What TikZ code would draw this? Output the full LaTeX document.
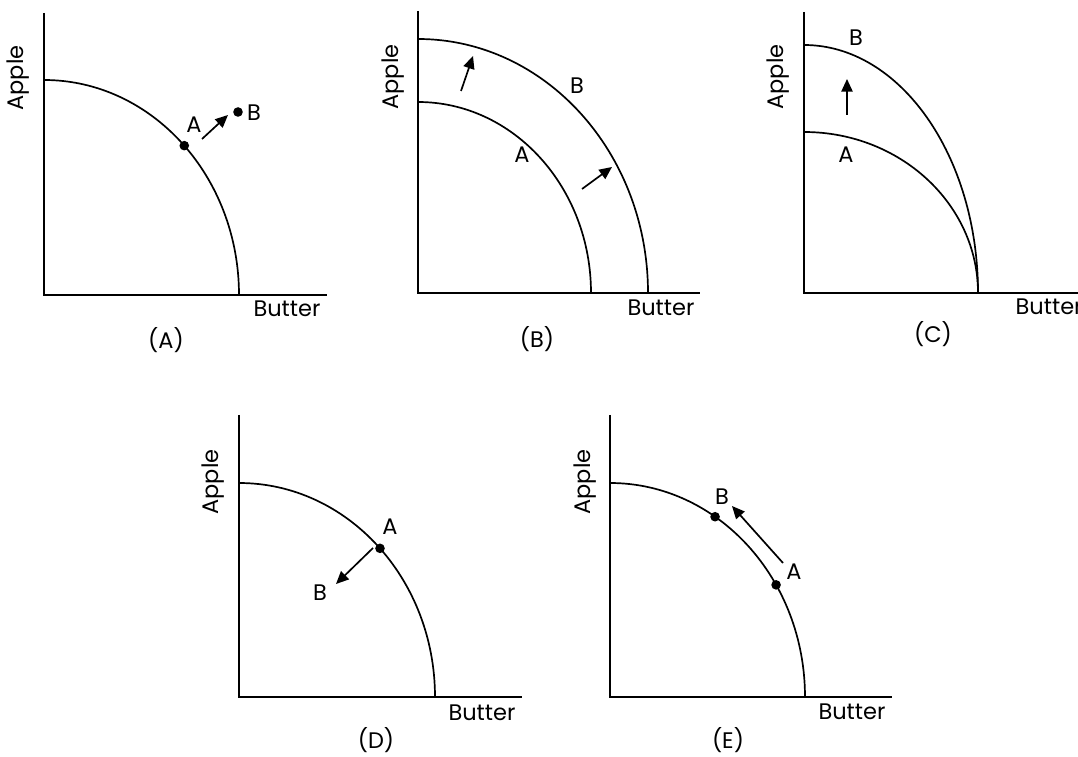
\documentclass[tikz,border=0pt]{standalone}
\usepackage{fontspec}
\setmainfont{Poppins}
\usetikzlibrary{arrows.meta,calc}

\begin{document}
\begin{tikzpicture}[x=0.025cm,y=0.025cm,>={Triangle[length=9pt,width=8pt]},
 axis/.style={line width=1.2pt},
 ppf/.style={line width=1.2pt},
 dot/.style={circle,fill,inner sep=0pt,minimum size=0.24cm},
 lbl/.style={font=\fontsize{16}{19}\selectfont,inner sep=1pt},
 arr/.style={->,line width=1.2pt}]
\useasboundingbox (0,0) rectangle (1078,756);
% (A) move beyond the frontier
\coordinate (oa) at (44,461);
\draw[axis] (44,743) -- (oa) -- (327,461);
\draw[ppf] (44,676) arc[start angle=90,end angle=0,x radius=195,y radius=215];
\node[dot] (pa1) at ($(oa)+(44:195 and 215)$) {};
\node[dot] (pa2) at (238,644) {};
\node[lbl] (la1) at (194,631) {A};
\node[lbl] (la2) at (254,643) {B};
\coordinate (a1s) at (202,617);
\coordinate (a1e) at (228,641);
\draw[arr] (a1s) -- (a1e);
\node[lbl,rotate=90] (ya) at (18,678) {Apple};
\node[lbl] (xa) at (287,447) {Butter};
\node[lbl] (ta) at (166,416) {(A)};
% (B) whole frontier shifts out
\coordinate (ob) at (418,463);
\draw[axis] (418,745) -- (ob) -- (700,463);
\draw[ppf] (418,654) arc[start angle=90,end angle=0,x radius=173,y radius=191];
\draw[ppf] (418,717) arc[start angle=90,end angle=0,x radius=230,y radius=254];
\node[lbl] (lb1) at (522,601) {A};
\node[lbl] (lb2) at (577,670) {B};
\coordinate (b1s) at (461,665);
\coordinate (b1e) at (473,700);
\draw[arr] (b1s) -- (b1e);
\coordinate (b2s) at (582,567);
\coordinate (b2e) at (612,589);
\draw[arr] (b2s) -- (b2e);
\node[lbl,rotate=90] (yb) at (393,679) {Apple};
\node[lbl] (xb) at (661,448) {Butter};
\node[lbl] (tb) at (537,417) {(B)};
% (C) only apple axis shifts
\coordinate (oc) at (804,463);
\draw[axis] (804,744) -- (oc) -- (1078,463);
\draw[ppf] (804,624) arc[start angle=90,end angle=0,x radius=174,y radius=161];
\draw[ppf] (804,711) arc[start angle=90,end angle=0,x radius=174,y radius=248];
\node[lbl] (lc1) at (846,601) {A};
\node[lbl] (lc2) at (856,718) {B};
\coordinate (c1s) at (847,641);
\coordinate (c1e) at (847,677);
\draw[arr] (c1s) -- (c1e);
\node[lbl,rotate=90] (yc) at (778,679) {Apple};
\node[lbl,anchor=west] (xc) at (1014,449) {Butter};
\node[lbl] (tc) at (933,422) {(C)};
% (D) move inside the frontier
\coordinate (od) at (239,59);
\draw[axis] (239,341) -- (od) -- (522,59);
\draw[ppf] (239,273) arc[start angle=90,end angle=0,x radius=196,y radius=214];
\node[dot] (pd1) at ($(od)+(44:196 and 214)$) {};
\node[lbl] (ld1) at (390,229) {A};
\node[lbl] (ld2) at (320,163) {B};
\coordinate (d1s) at (373,208);
\coordinate (d1e) at (336,172);
\draw[arr] (d1s) -- (d1e);
\node[lbl,rotate=90] (yd) at (213,274) {Apple};
\node[lbl] (xd) at (482,43) {Butter};
\node[lbl] (td) at (376,16) {(D)};
% (E) move along the frontier
\coordinate (oe) at (610,59);
\draw[axis] (610,341) -- (oe) -- (892,59);
\draw[ppf] (610,273) arc[start angle=90,end angle=0,x radius=195,y radius=214];
\node[dot] (pe1) at ($(oe)+(31.6:195 and 214)$) {};
\node[dot] (pe2) at ($(oe)+(57.4:195 and 214)$) {};
\node[lbl] (le1) at (794,184) {A};
\node[lbl] (le2) at (722,259) {B};
\coordinate (e1s) at (783,193);
\coordinate (e1e) at (732,250);
\draw[arr] (e1s) -- (e1e);
\node[lbl,rotate=90] (ye) at (585,274) {Apple};
\node[lbl] (xe) at (852,44) {Butter};
\node[lbl] (te) at (728,16) {(E)};
\end{tikzpicture}
\end{document}
